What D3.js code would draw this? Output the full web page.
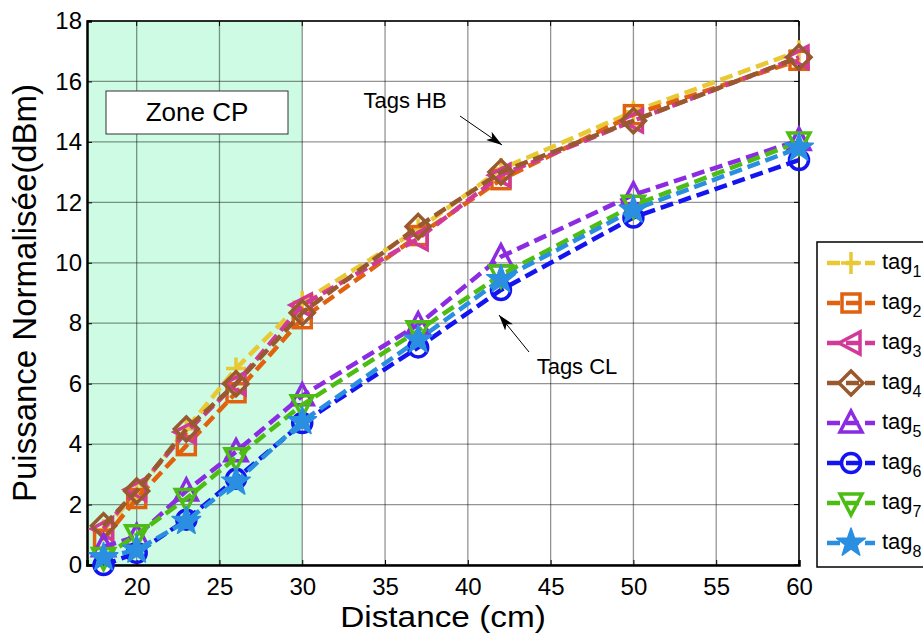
<!DOCTYPE html>
<html><head><meta charset="utf-8">
<script src="https://cdn.jsdelivr.net/npm/d3@7"></script>
<style>body{margin:0;background:#fff;}svg{display:block;font-family:"Liberation Sans",Arial,sans-serif;}</style>
</head><body><svg id="c" width="923" height="634"></svg>
<script>
const distances = [18, 20, 23, 26, 30, 37, 42, 50, 60];
const tag1 = [1.15, 2.4, 4.5, 6.5, 8.7, 11.1, 13.1, 15.0, 17.0];
const tag2 = [0.85, 2.2, 3.95, 5.7, 8.15, 10.9, 12.75, 14.9, 16.7];
const tag3 = [1.2, 2.5, 4.4, 6.0, 8.6, 10.8, 12.9, 14.7, 16.8];
const tag4 = [1.3, 2.45, 4.5, 6.0, 8.35, 11.2, 13.0, 14.7, 16.8];
const tag5 = [0.6, 0.95, 2.45, 3.75, 5.6, 7.95, 10.2, 12.25, 14.05];
const tag6 = [0.0, 0.4, 1.5, 2.85, 4.7, 7.2, 9.1, 11.5, 13.4];
const tag7 = [0.25, 1.0, 2.2, 3.55, 5.3, 7.75, 9.6, 11.9, 14.0];
const tag8 = [0.25, 0.5, 1.45, 2.75, 4.75, 7.45, 9.45, 11.75, 13.8];
const seriesNames = ["tag1","tag2","tag3","tag4","tag5","tag6","tag7","tag8"];
const seriesValues = [tag1,tag2,tag3,tag4,tag5,tag6,tag7,tag8];
const colors = ["#e8c934","#e0620f","#d23a98","#99592f","#8b2be2","#1414f0","#4dbd14","#2a8fe0"];
const markers = ["plus","square","triLeft","diamond","triUp","circle","triDown","star"];
const xTicks = [20,25,30,35,40,45,50,55,60];
const yTicks = [0,2,4,6,8,10,12,14,16,18];

const svg = d3.select("#c");
const L=87, R=799, T=21, B=565;
const x = d3.scaleLinear().domain([17,60]).range([L,R]);
const y = d3.scaleLinear().domain([0,18]).range([B,T]);

// zone CP
svg.append("rect").attr("x",x(17)).attr("y",T).attr("width",x(30)-x(17)).attr("height",B-T).attr("fill","#cdfbe4");

// grid
svg.append("g").selectAll("line").data(xTicks).join("line")
  .attr("x1",d=>x(d)).attr("x2",d=>x(d)).attr("y1",T).attr("y2",B)
  .attr("stroke","#000").attr("stroke-opacity",0.42).attr("stroke-width",1.3);
svg.append("g").selectAll("line").data(yTicks).join("line")
  .attr("y1",d=>y(d)).attr("y2",d=>y(d)).attr("x1",L).attr("x2",R)
  .attr("stroke","#000").attr("stroke-opacity",0.42).attr("stroke-width",1.3);

// zone label box
svg.append("rect").attr("x",106).attr("y",91).attr("width",182).attr("height",43).attr("fill","#fff").attr("stroke","#333").attr("stroke-width",1);
svg.append("text").attr("x",197).attr("y",121).attr("text-anchor","middle").attr("font-size",26).text("Zone CP");

// axes
const xAxis = d3.axisBottom(x).tickValues(xTicks).tickSize(-5).tickPadding(13).tickFormat(d3.format("d"));
const yAxis = d3.axisLeft(y).tickValues(yTicks).tickSize(-5).tickPadding(5).tickFormat(d3.format("d"));
const gx = svg.append("g").attr("transform",`translate(0,${B})`).call(xAxis);
const gy = svg.append("g").attr("transform",`translate(${L},0)`).call(yAxis);
[gx,gy].forEach(g=>{g.select(".domain").attr("stroke","#000").attr("stroke-width",2.5);
  g.selectAll("text").attr("font-size",24).attr("fill","#000").attr("font-family","Liberation Sans, Arial, sans-serif");
  g.selectAll(".tick line").attr("stroke","#000");});
svg.append("line").attr("x1",L).attr("x2",R).attr("y1",T).attr("y2",T).attr("stroke","#000").attr("stroke-width",1.5);
svg.append("line").attr("x1",R).attr("x2",R).attr("y1",T).attr("y2",B).attr("stroke","#000").attr("stroke-width",1.5);
svg.append("g").selectAll("line").data(xTicks).join("line").attr("x1",d=>x(d)).attr("x2",d=>x(d)).attr("y1",T).attr("y2",T+5).attr("stroke","#000");
svg.append("g").selectAll("line").data(yTicks).join("line").attr("y1",d=>y(d)).attr("y2",d=>y(d)).attr("x1",R).attr("x2",R-5).attr("stroke","#000");

svg.append("text").attr("transform","translate(443,627) scale(1.15,1)").attr("text-anchor","middle").attr("font-size",29).text("Distance (cm)");
svg.append("text").attr("transform",`translate(36,${(T+B)/2}) rotate(-90)`).attr("text-anchor","middle").attr("font-size",33).text("Puissance Normalisée(dBm)");

// marker drawing
function drawMarker(g, type, cx, cy, color){
  let el;
  if(type==="plus"){
    el = g.append("path").attr("d",`M${cx-10},${cy}H${cx+10}M${cx},${cy-11}V${cy+11}`);
  } else if(type==="square"){
    el = g.append("rect").attr("x",cx-9).attr("y",cy-9).attr("width",18).attr("height",18);
  } else if(type==="triLeft"){
    el = g.append("path").attr("d",`M${cx-12},${cy}L${cx+9},${cy-11}L${cx+9},${cy+11}Z`);
  } else if(type==="triUp"){
    el = g.append("path").attr("d",`M${cx},${cy-12}L${cx+11},${cy+9}L${cx-11},${cy+9}Z`);
  } else if(type==="triDown"){
    el = g.append("path").attr("d",`M${cx},${cy+12}L${cx+11},${cy-9}L${cx-11},${cy-9}Z`);
  } else if(type==="diamond"){
    el = g.append("path").attr("d",`M${cx},${cy-12}L${cx+12},${cy}L${cx},${cy+12}L${cx-12},${cy}Z`);
  } else if(type==="circle"){
    el = g.append("circle").attr("cx",cx).attr("cy",cy).attr("r",9.5);
  } else if(type==="star"){
    const pts=[];
    for(let i=0;i<10;i++){const a=-Math.PI/2+i*Math.PI/5; const rr=i%2?6:15; pts.push([cx+rr*Math.cos(a),cy+rr*Math.sin(a)]);}
    g.append("path").attr("d","M"+pts.map(p=>p.join(",")).join("L")+"Z")
      .attr("fill",color).attr("stroke",color).attr("stroke-width",1.5).attr("stroke-linejoin","round");
    return;
  }
  el.attr("stroke",color).attr("stroke-width",3.5).attr("fill","none");
}

const line = d3.line().x((d,i)=>x(distances[i])).y(d=>y(d));
const plot = svg.append("g");
seriesValues.forEach((vals,k)=>{
  const g = plot.append("g");
  g.append("path").datum(vals).attr("d",line).attr("fill","none").attr("stroke",colors[k])
    .attr("stroke-width",4.5).attr("stroke-dasharray","13,6");
  vals.forEach((v,i)=>drawMarker(g, markers[k], x(distances[i]), y(v), colors[k]));
});

// annotations
const defs = svg.append("defs");
defs.append("marker").attr("id","ah").attr("viewBox","0 0 16 10").attr("refX",16).attr("refY",5)
  .attr("markerWidth",16).attr("markerHeight",10).attr("markerUnits","userSpaceOnUse").attr("orient","auto")
  .append("path").attr("d","M0,0L16,5L0,10L4,5Z").attr("fill","#000");
svg.append("text").attr("x",405).attr("y",108).attr("text-anchor","middle").attr("font-size",22).text("Tags HB");
svg.append("line").attr("x1",460).attr("y1",116).attr("x2",502).attr("y2",145).attr("stroke","#000").attr("stroke-width",1).attr("marker-end","url(#ah)");
svg.append("text").attr("x",577).attr("y",374).attr("text-anchor","middle").attr("font-size",22).text("Tags CL");
svg.append("line").attr("x1",529).attr("y1",352).attr("x2",499).attr("y2",315).attr("stroke","#000").attr("stroke-width",1).attr("marker-end","url(#ah)");

// legend
const lg = svg.append("g");
lg.append("rect").attr("x",817).attr("y",242).attr("width",120).attr("height",325).attr("fill","#fff").attr("stroke","#000").attr("stroke-width",1.5);
seriesNames.forEach((n,k)=>{
  const yy = 263 + k*40;
  lg.append("line").attr("x1",827).attr("x2",875).attr("y1",yy).attr("y2",yy).attr("stroke",colors[k]).attr("stroke-width",4.5).attr("stroke-dasharray","13,6");
  drawMarker(lg, markers[k], 851, yy, colors[k]);
  const t = lg.append("text").attr("x",882).attr("y",yy+6).attr("font-size",22);
  t.append("tspan").text("tag");
  t.append("tspan").attr("dy",8).attr("font-size",16).text(String(k+1));
});
</script></body></html>
